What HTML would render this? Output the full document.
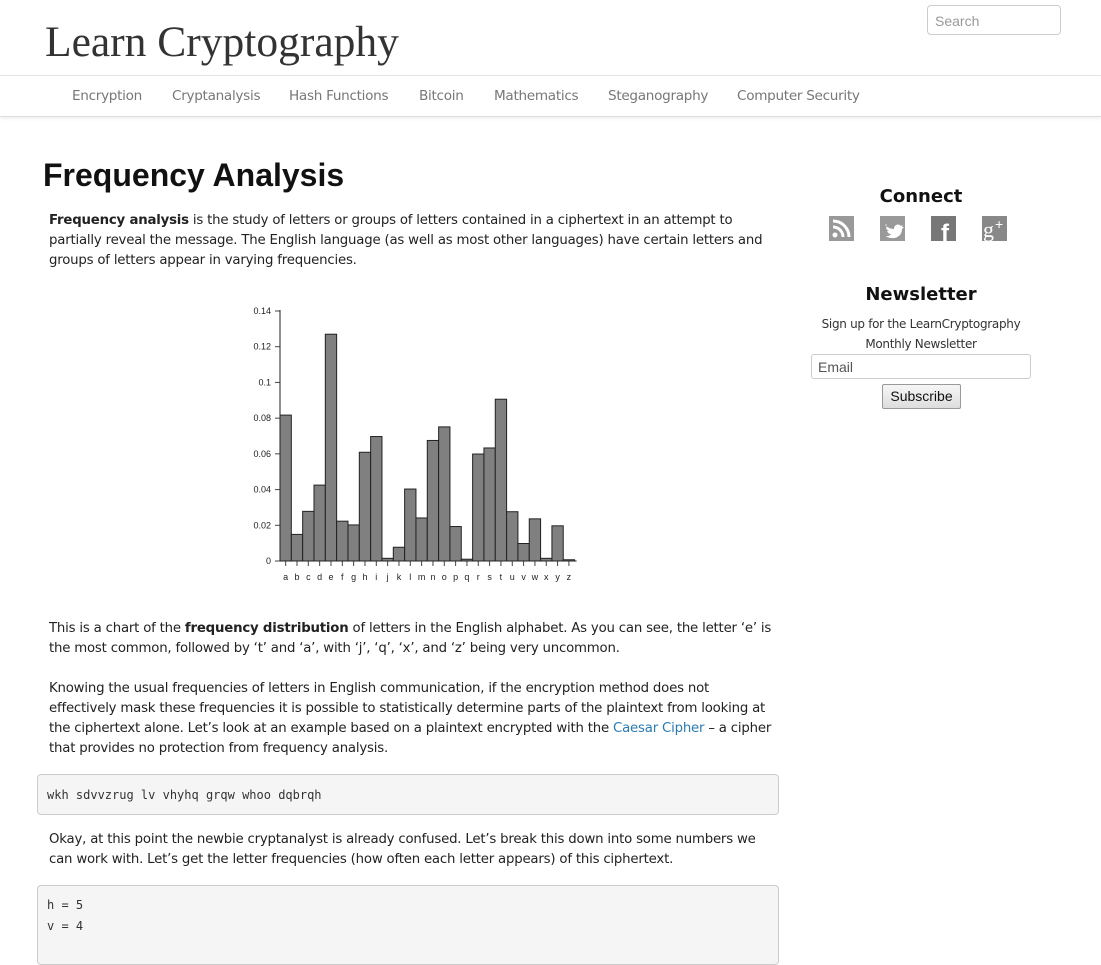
<!DOCTYPE html>
<html><head><meta charset="utf-8"><style>
body{margin:0;width:1101px;height:936px;overflow:hidden;background:#fff;font-family:"DejaVu Sans","Liberation Sans",sans-serif;color:#222;}
.hdr{position:absolute;left:0;top:0;width:1101px;height:75px;}
.logo{position:absolute;left:45px;top:17px;font-family:"Liberation Serif",serif;font-size:43.5px;color:#333;}
.search{position:absolute;left:927px;top:5px;width:134px;height:30px;border:1px solid #ccc;border-radius:4px;font:14px "Liberation Sans",sans-serif;color:#999;box-sizing:border-box;padding:7px 7px;}
.nav{position:absolute;left:0;top:75px;width:1101px;height:40px;border-top:1px solid #e5e5e5;border-bottom:1px solid #ddd;box-shadow:0 2px 3px rgba(0,0,0,.06);}
.nav span{position:absolute;top:12px;font-size:13.6px;letter-spacing:-0.3px;color:#777;}
h1{position:absolute;left:43px;top:157px;margin:0;font-family:"Liberation Sans",sans-serif;font-size:32px;font-weight:bold;color:#111;}
p{position:absolute;left:49px;margin:0;font-size:13.3px;letter-spacing:-0.2px;line-height:20px;width:731px;color:#222;}
.code{position:absolute;left:37px;width:742px;background:#f5f5f5;border:1px solid #ccc;border-radius:4px;box-sizing:border-box;font:12px "DejaVu Sans Mono","Liberation Mono",monospace;color:#333;padding:0 9px;}
.side h3{position:absolute;margin:0;width:220px;left:811px;text-align:center;font-size:18px;font-weight:bold;color:#111;}
a{color:#2a7ab5;text-decoration:none;}
</style></head><body>
<div class="hdr">
<div class="logo">Learn Cryptography</div>
<div class="search">Search</div>
</div>
<div class="nav">
<span style="left:72px">Encryption</span>
<span style="left:172px">Cryptanalysis</span>
<span style="left:289px">Hash Functions</span>
<span style="left:419px">Bitcoin</span>
<span style="left:494px">Mathematics</span>
<span style="left:608px">Steganography</span>
<span style="left:737px">Computer Security</span>
</div>
<h1>Frequency Analysis</h1>
<p style="top:211px;width:722px"><b>Frequency analysis</b> is the study of letters or groups of letters contained in a ciphertext in an attempt to partially reveal the message. The English language (as well as most other languages) have certain letters and groups of letters appear in varying frequencies.</p>
<svg id="chart" style="position:absolute;left:240px;top:300px" width="345" height="290"></svg>
<p style="top:619px">This is a chart of the <b>frequency distribution</b> of letters in the English alphabet. As you can see, the letter ‘e’ is the most common, followed by ‘t’ and ‘a’, with ‘j’, ‘q’, ‘x’, and ‘z’ being very uncommon.</p>
<p style="top:679px">Knowing the usual frequencies of letters in English communication, if the encryption method does not effectively mask these frequencies it is possible to statistically determine parts of the plaintext from looking at the ciphertext alone. Let’s look at an example based on a plaintext encrypted with the <a>Caesar Cipher</a> – a cipher that provides no protection from frequency analysis.</p>
<div class="code" style="top:774px;height:41px;line-height:41px">wkh sdvvzrug lv vhyhq grqw whoo dqbrqh</div>
<p style="top:830px;width:722px">Okay, at this point the newbie cryptanalyst is already confused. Let’s break this down into some numbers we can work with. Let’s get the letter frequencies (how often each letter appears) of this ciphertext.</p>
<div class="code" style="top:885px;height:80px;line-height:21px;padding-top:9px">h = 5<br>v = 4</div>
<div class="side">
<h3 style="top:186px">Connect</h3>
<svg style="position:absolute;left:829px;top:216px" width="180" height="26">
<g><rect x="0" y="0" width="25" height="25" fill="#999"/><circle cx="6" cy="19" r="2.5" fill="#fff"/><path d="M4 11a10 10 0 0 1 10 10M4 5a16 16 0 0 1 16 16" stroke="#fff" stroke-width="3" fill="none"/></g>
<g><rect x="51" y="0" width="25" height="25" fill="#999"/><path d="M56 9c3 3 6 4 9 4 0-4 4-6 7-3l2-1-1 2 2 0-2 2c0 6-5 10-11 9-2 0-4-1-5-2 2 0 4 0 5-2-2 0-3-1-4-3h2c-2-1-3-2-3-4l2 1c-2-1-2-3-1-4z" fill="#fff"/></g>
<g><rect x="102" y="0" width="25" height="25" fill="#777"/><text x="112" y="25" font-family="Liberation Sans" font-weight="bold" font-size="24" fill="#fff">f</text></g>
<g><rect x="153" y="0" width="25" height="25" fill="#888"/><text x="154" y="21" font-family="Liberation Serif" font-size="22" fill="#fff">g</text><text x="166" y="13" font-family="Liberation Sans" font-size="14" fill="#fff">+</text></g>
</svg>
<h3 style="top:284px">Newsletter</h3>
<div style="position:absolute;left:811px;top:314px;width:220px;text-align:center;font-size:12px;letter-spacing:-0.3px;line-height:20px;color:#333">Sign up for the LearnCryptography<br>Monthly Newsletter</div>
<div style="position:absolute;left:811px;top:354px;width:220px;height:25px;border:1px solid #ccc;border-radius:3px;box-sizing:border-box;font:14px 'Liberation Sans',sans-serif;color:#555;padding:4px 6px">Email</div>
<div style="position:absolute;left:882px;top:384px;width:79px;height:25px;border:1px solid #999;border-radius:2px;box-sizing:border-box;background:linear-gradient(#f6f6f6,#ddd);font:14px 'Liberation Sans',sans-serif;color:#111;text-align:center;line-height:23px">Subscribe</div>
</div>
<script>
const letters=["a","b","c","d","e","f","g","h","i","j","k","l","m","n","o","p","q","r","s","t","u","v","w","x","y","z"];
const freqs=[0.0817,0.0149,0.0278,0.0425,0.127,0.0223,0.0202,0.0609,0.0697,0.0015,0.0077,0.0403,0.0241,0.0675,0.0751,0.0193,0.001,0.0599,0.0633,0.0906,0.0276,0.0098,0.0236,0.0015,0.0197,0.0007];
const yTicks=[0,0.02,0.04,0.06,0.08,0.1,0.12,0.14];
const yTickLabels=["0","0.02","0.04","0.06","0.08","0.1","0.12","0.14"];
const svg=document.getElementById('chart'),NS='http://www.w3.org/2000/svg';
const X0=40,Y0=261,H=250,BW=11.33,yMax=0.14;
const y=v=>Y0-v/yMax*H, x=i=>X0+i*BW;
function mk(t,a){const e=document.createElementNS(NS,t);for(const k in a)e.setAttribute(k,a[k]);svg.appendChild(e);return e;}
freqs.forEach((v,i)=>{const r=mk('rect',{x:x(i),y:y(v),width:BW,height:Y0-y(v),fill:'#808080',stroke:'#222','stroke-width':1});


const t=mk('text',{x:x(i)+BW/2,y:Y0+19,'text-anchor':'middle','font-size':9,'font-family':'Liberation Sans',fill:'#222'});t.textContent=letters[i];


mk('line',{x1:x(i)+BW/2,x2:x(i)+BW/2,y1:Y0,y2:Y0+5,stroke:'#444'});});
yTicks.forEach((v,i)=>{mk('line',{x1:X0-5,x2:X0,y1:y(v),y2:y(v),stroke:'#444'});
const t=mk('text',{x:X0-9,y:y(v)+3,'text-anchor':'end','font-size':9,'font-family':'Liberation Sans',fill:'#222'});t.textContent=yTickLabels[i];

});
const ya=mk('line',{x1:X0,x2:X0,y1:y(yMax)-1,y2:Y0,stroke:'#222'});


const xa=mk('line',{x1:X0,x2:X0+26*BW+2,y1:Y0,y2:Y0,stroke:'#222'});


</script>
</body></html>
